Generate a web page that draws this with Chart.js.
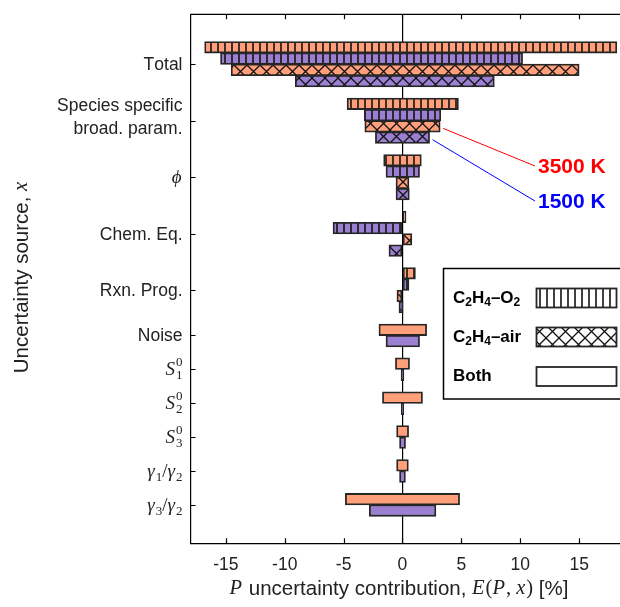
<!DOCTYPE html>
<html>
<head>
<meta charset="utf-8">
<script src="https://cdn.jsdelivr.net/npm/chart.js@4"></script>
<style>
  html, body { margin: 0; padding: 0; background: #fff; }
  #wrap { width: 620px; height: 607px; }
</style>
</head>
<body>
<div id="wrap"><canvas id="contribution-chart"></canvas></div>
<script>
// uncertainty sources, top to bottom
const sources = ['Total', 'Species specific\nbroad. param.', 'ϕ', 'Chem. Eq.', 'Rxn. Prog.',
  'Noise', 'S₁⁰', 'S₂⁰', 'S₃⁰', 'γ₁/γ₂', 'γ₃/γ₂'];
// the first five are split by mixture, the rest are shared by both
const mixtureCount = 5;

// [low, high] contribution to P in %
const o2Hot = [[-16.8, 18.2], [-4.7, 4.75], [-1.6, 1.6], [0, 0.3], [0, 1.1]];
const o2Cold = [[-15.45, 10.2], [-3.25, 3.25], [-1.4, 1.45], [-5.9, 0], [0, 0.55]];
const airHot = [[-14.55, 15.0], [-3.2, 3.2], [-0.55, 0.55], [0, 0.8], [-0.47, 0]];
const airCold = [[-9.1, 7.8], [-2.3, 2.3], [-0.55, 0.58], [-1.15, 0], [-0.3, 0.05]];
const bothHot = [[-2.0, 2.05], [-0.6, 0.6], [-1.7, 1.7], [-0.5, 0.52], [-0.5, 0.5], [-4.85, 4.85]];
const bothCold = [[-1.4, 1.45], [-0.12, 0.12], [-0.1, 0.1], [-0.25, 0.26], [-0.25, 0.25], [-2.82, 2.84]];

const xTicks = [-15, -10, -5, 0, 5, 10, 15];

const ORANGE = '#ffa07a';
const PURPLE = '#9b80d2';
const EDGE = '#262626';
const SANS = '"Liberation Sans", Arial, sans-serif';
const SERIF = '"Liberation Serif", "DejaVu Serif", serif';

// one row per bar, an empty row between sources
const slotStart = [];
const slotCenter = [];
let row = 0;
sources.forEach((s, i) => {
  const n = i < mixtureCount ? 4 : 2;
  slotStart.push(row);
  slotCenter.push(row + (n - 1) / 2);
  row += n + 1;
});

function rows(values, offset, first = 0) {
  return values.map((v, i) => ({ x: v, y: slotStart[first + i] + offset }));
}

function hatch(color, kind) {
  const size = kind === 'x' ? 13 : 7;
  const c = document.createElement('canvas');
  c.width = size; c.height = size;
  const g = c.getContext('2d');
  g.fillStyle = color;
  g.fillRect(0, 0, size, size);
  g.strokeStyle = '#111';
  g.lineWidth = kind === 'x' ? 1.3 : 1.6;
  g.beginPath();
  if (kind === '|') {
    g.moveTo(1, 0); g.lineTo(1, size);
  } else {
    g.moveTo(-1, -1); g.lineTo(size + 1, size + 1);
    g.moveTo(-1, size + 1); g.lineTo(size + 1, -1);
  }
  g.stroke();
  return g.createPattern(c, 'repeat');
}

function barSet(label, data, fill) {
  return {
    label, data,
    backgroundColor: fill,
    borderColor: EDGE,
    borderWidth: 1.8,
    borderSkipped: false,
    barThickness: 11.6,
    grouped: false,
  };
}

// rich text: unicode sub/superscripts become shifted small glyphs
const SUB = '₀₁₂₃₄₅₆₇₈₉', SUP = '⁰¹²³⁴⁵⁶⁷⁸⁹';

function parseRuns(str, size, baseFont, math) {
  const out = [];
  for (const ch of str) {
    let shift = 0, t = ch;
    if (SUB.includes(ch)) { shift = 1; t = String(SUB.indexOf(ch)); }
    else if (SUP.includes(ch)) { shift = -1; t = String(SUP.indexOf(ch)); }
    let font;
    if (shift) font = (math ? '' : 'bold ') + Math.round(size * 0.7) + 'px ' + (math ? SERIF : SANS);
    else if (math && /[A-Za-zϕγ]/.test(ch)) font = 'italic ' + size + 'px ' + SERIF;
    else if (math) font = size + 'px ' + SERIF;
    else font = baseFont;
    out.push({ t, shift, font });
  }
  return out;
}

function layoutRuns(ctx, runs, size) {
  let x = 0;
  const placed = [];
  for (let i = 0; i < runs.length; i++) {
    const r = runs[i];
    ctx.font = r.font;
    const w = ctx.measureText(r.t).width;
    const dy = r.shift > 0 ? size * 0.3 : r.shift < 0 ? -size * 0.4 : 0;
    placed.push({ ...r, x, dy });
    // a subscript followed by a superscript share the same column
    const next = runs[i + 1];
    if (r.shift > 0 && next && next.shift < 0) {
      ctx.font = next.font;
      const w2 = ctx.measureText(next.t).width;
      placed.push({ ...next, x, dy: -size * 0.4 });
      x += Math.max(w, w2);
      i++;
    } else {
      x += w + (r.font.startsWith('italic') ? 1 : 0);
    }
  }
  return { placed, width: x };
}

function drawRuns(ctx, runs, size, x, y, align, color) {
  const { placed, width } = layoutRuns(ctx, runs, size);
  const x0 = align === 'right' ? x - width : align === 'center' ? x - width / 2 : x;
  ctx.fillStyle = color;
  ctx.textBaseline = 'middle';
  ctx.textAlign = 'left';
  for (const p of placed) {
    ctx.font = p.font;
    ctx.fillText(p.t, x0 + p.x, y + p.dy);
  }
}

const patterns = {
  o2Hot: hatch(ORANGE, '|'), o2Cold: hatch(PURPLE, '|'),
  airHot: hatch(ORANGE, 'x'), airCold: hatch(PURPLE, 'x'),
  o2Key: hatch('#fff', '|'), airKey: hatch('#fff', 'x'),
};

// axes furniture, labels, temperature callouts and mixture key
const decor = {
  id: 'decor',
  afterDraw(chart) {
    const { ctx, chartArea: a, scales: { x, y } } = chart;
    ctx.save();

    // top spine and inward ticks
    ctx.strokeStyle = '#000';
    ctx.lineWidth = 1.2;
    ctx.beginPath();
    ctx.moveTo(a.left, a.top); ctx.lineTo(a.right, a.top);
    xTicks.forEach(v => {
      const px = Math.round(x.getPixelForValue(v)) + 0.5;
      ctx.moveTo(px, a.bottom); ctx.lineTo(px, a.bottom - 5);
      ctx.moveTo(px, a.top); ctx.lineTo(px, a.top + 5);
    });
    slotCenter.forEach(c => {
      const py = Math.round(y.getPixelForValue(c)) + 0.5;
      ctx.moveTo(a.left, py); ctx.lineTo(a.left + 5, py);
    });
    ctx.stroke();

    // source labels
    const tickFont = '17.5px ' + SANS;
    sources.forEach((s, i) => {
      const py = y.getPixelForValue(slotCenter[i]);
      const lines = s.split('\n');
      const math = /[ϕγ₀-₉⁰-⁹]/.test(s);
      const size = math ? 19 : 17.5;
      lines.forEach((ln, k) => {
        const off = lines.length > 1 ? (k - (lines.length - 1) / 2) * 23 - 3 : 1;
        drawRuns(ctx, parseRuns(ln, size, tickFont, math), size, a.left - 8, py + off, 'right', '#222');
      });
    });

    // axis titles
    const t = 20.5;
    const sans = t + 'px ' + SANS, it = 'italic ' + t + 'px ' + SERIF, rm = t + 'px ' + SERIF;
    const xTitle = [
      { t: 'P', shift: 0, font: it }, { t: ' uncertainty contribution, ', shift: 0, font: sans },
      { t: 'E', shift: 0, font: it }, { t: '(', shift: 0, font: rm }, { t: 'P', shift: 0, font: it },
      { t: ', ', shift: 0, font: rm }, { t: 'x', shift: 0, font: it }, { t: ')', shift: 0, font: rm },
      { t: ' [%]', shift: 0, font: sans },
    ];
    drawRuns(ctx, xTitle, t, 399, 589, 'center', '#222');

    ctx.save();
    ctx.translate(22, 277);
    ctx.rotate(-Math.PI / 2);
    drawRuns(ctx, [{ t: 'Uncertainty source, ', shift: 0, font: sans }, { t: 'x', shift: 0, font: it }],
      t, 0, 0, 'center', '#222');
    ctx.restore();

    // temperature callouts from the species-specific air bars
    const sp = 1;
    const callouts = [
      { v: airHot[sp][1], slot: 2, color: '#ff0000', text: '3500 K', ty: 166 },
      { v: airCold[sp][1], slot: 3, color: '#0000ff', text: '1500 K', ty: 201 },
    ];
    callouts.forEach(c => {
      const sx = x.getPixelForValue(c.v) + 3;
      const sy = y.getPixelForValue(slotStart[sp] + c.slot) + 2;
      ctx.strokeStyle = c.color;
      ctx.lineWidth = 1;
      ctx.beginPath();
      ctx.moveTo(sx, sy); ctx.lineTo(535, c.ty);
      ctx.stroke();
      ctx.font = 'bold 21px ' + SANS;
      ctx.fillStyle = c.color;
      ctx.textAlign = 'left';
      ctx.textBaseline = 'middle';
      ctx.fillText(c.text, 538, c.ty + 1);
    });

    // mixture key
    ctx.fillStyle = '#fff';
    ctx.fillRect(443.5, 268.5, 200, 130.5);
    ctx.strokeStyle = '#000';
    ctx.lineWidth = 1.5;
    ctx.strokeRect(443.5, 268.5, 200, 130.5);
    const keyFont = 'bold 17px ' + SANS;
    const keys = [
      { label: 'C₂H₄–O₂', fill: patterns.o2Key, cy: 298 },
      { label: 'C₂H₄–air', fill: patterns.airKey, cy: 337 },
      { label: 'Both', fill: '#fff', cy: 376.5 },
    ];
    keys.forEach(k => {
      drawRuns(ctx, parseRuns(k.label, 17, keyFont, false), 17, 453, k.cy, 'left', '#000');
      ctx.fillStyle = k.fill;
      ctx.fillRect(536, k.cy - 9.5, 80, 19);
      ctx.strokeStyle = EDGE;
      ctx.lineWidth = 1.8;
      ctx.strokeRect(536.5, k.cy - 9.5, 80, 19);
    });

    ctx.restore();
  }
};

const contributionChart = new Chart('contribution-chart', {
  type: 'bar',
  data: {
    datasets: [
      barSet('C2H4-O2, 3500 K', rows(o2Hot, 0), patterns.o2Hot),
      barSet('C2H4-O2, 1500 K', rows(o2Cold, 1), patterns.o2Cold),
      barSet('C2H4-air, 3500 K', rows(airHot, 2), patterns.airHot),
      barSet('C2H4-air, 1500 K', rows(airCold, 3), patterns.airCold),
      barSet('Both, 3500 K', rows(bothHot, 0, mixtureCount), ORANGE),
      barSet('Both, 1500 K', rows(bothCold, 1, mixtureCount), PURPLE),
    ],
  },
  options: {
    indexAxis: 'y',
    responsive: true,
    maintainAspectRatio: false,
    animation: false,
    layout: { padding: { top: 14.3, left: 0, right: 0, bottom: 0 } },
    scales: {
      x: {
        type: 'linear',
        min: -18,
        max: 18.47,
        z: 1,
        afterBuildTicks: (scale) => { scale.ticks = xTicks.map(v => ({ value: v })); },
        afterFit: (scale) => { scale.height = 63.7; },
        grid: {
          drawTicks: false,
          color: (c) => (c.tick && c.tick.value === 0 ? '#000' : 'rgba(0,0,0,0)'),
          lineWidth: 1.2,
        },
        border: { color: '#000', width: 1.2 },
        ticks: { color: '#222', padding: 11, font: { family: SANS, size: 17.5 } },
      },
      y: {
        type: 'linear',
        reverse: true,
        offset: false,
        min: -2.92,
        max: 43.9,
        afterFit: (scale) => { scale.width = 190.5; },
        grid: { display: false, drawTicks: false, offset: false },
        border: { color: '#000', width: 1.2 },
        ticks: { display: false },
      },
    },
    plugins: {
      legend: { display: false },
      tooltip: { enabled: false },
    },
  },
  plugins: [decor],
});
</script>
</body>
</html>
